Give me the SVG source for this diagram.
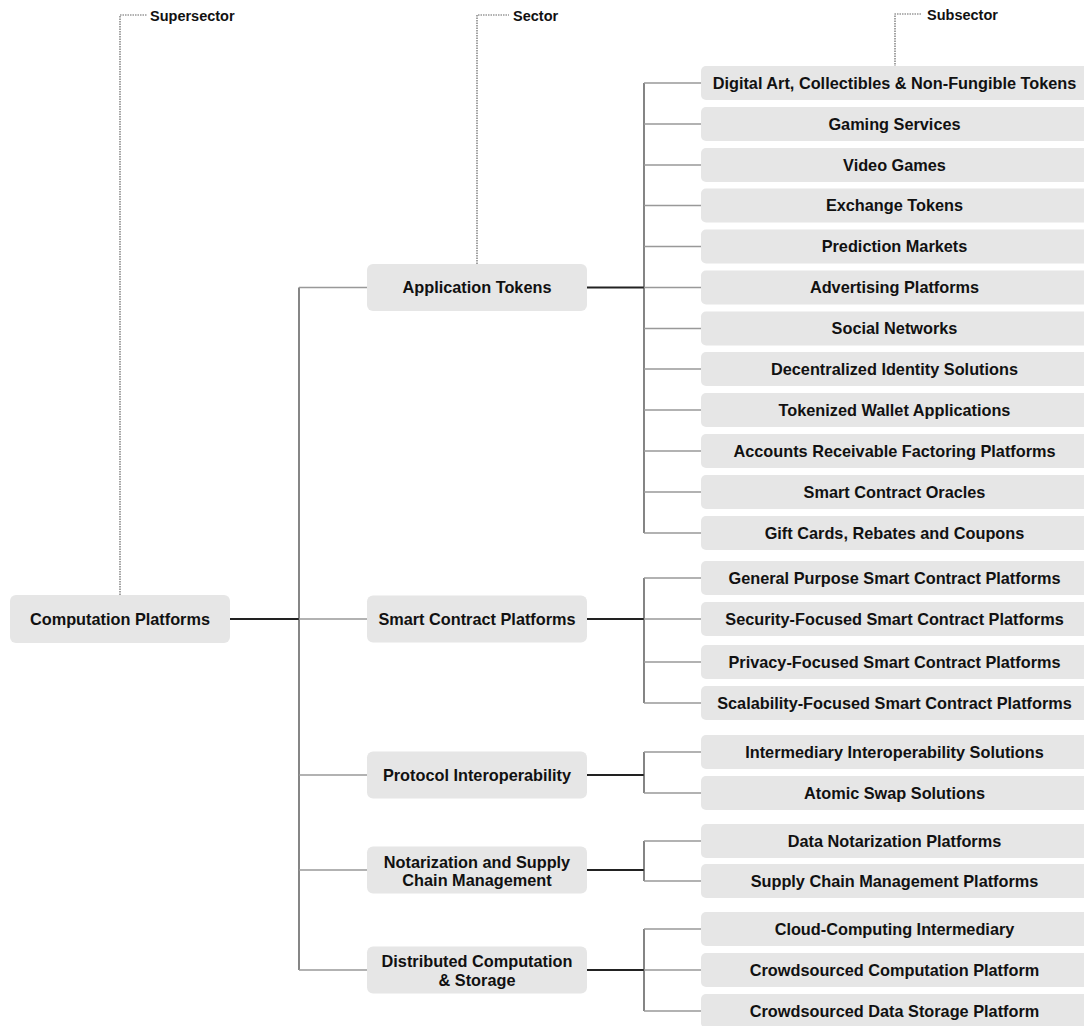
<svg xmlns="http://www.w3.org/2000/svg" width="1084" height="1026" viewBox="0 0 1084 1026">
<style>
.n rect{fill:#e6e6e6;}
.n text{font-family:"Liberation Sans",Arial,sans-serif;font-weight:bold;font-size:16.3px;fill:#111;text-anchor:middle;}
.lbl{font-family:"Liberation Sans",Arial,sans-serif;font-weight:bold;font-size:14.5px;fill:#111;}
.lead{fill:none;stroke:#666;stroke-width:1.2;stroke-dasharray:1.5 1;}
.thick{stroke:#222;stroke-width:2;fill:none;}
.vert{stroke:#444;stroke-width:1.3;fill:none;}
.thin{stroke:#999;stroke-width:1.5;fill:none;}
</style>
<rect width="1084" height="1026" fill="#fff"/>
<g id="leaders">
<path class="lead" d="M120,595 V15 H147"/>
<text class="lbl" x="150" y="20.5">Supersector</text>
<path class="lead" d="M477,264 V15 H509"/>
<text class="lbl" x="513" y="20.5">Sector</text>
<path class="lead" d="M895,67 V14 H922"/>
<text class="lbl" x="927" y="19.5">Subsector</text>
</g>
<g id="connectors">
<path class="thick" d="M230,619 H299"/>
<path class="vert" d="M299,287.5 V970"/>
<path class="thin" d="M299,287.5 H367 M299,619 H367 M299,775 H367 M299,870 H367 M299,970 H367"/>
<path class="thick" d="M587,287.5 H644 M587,619 H644 M587,775 H644 M587,870 H644 M587,970 H644"/>
<path class="vert" d="M644,83 V533 M644,578 V703 M644,752 V793 M644,841 V881 M644,929 V1011"/>
<path class="thin" d="M644,83 H701 M644,124 H701 M644,165 H701 M644,205.5 H701 M644,246.5 H701 M644,287.5 H701 M644,328.5 H701 M644,369 H701 M644,410 H701 M644,451 H701 M644,492 H701 M644,533 H701"/>
<path class="thin" d="M644,578 H701 M644,619 H701 M644,662 H701 M644,703 H701"/>
<path class="thin" d="M644,752 H701 M644,793 H701 M644,841 H701 M644,881 H701 M644,929 H701 M644,970 H701 M644,1011 H701"/>
</g>
<g id="root" class="n"><rect x="10" y="595" width="220" height="48" rx="6"/><text x="120" y="624.8">Computation Platforms</text></g>
<g id="sec-app" class="n"><rect x="367" y="264" width="220" height="47" rx="6"/><text x="477" y="293.3">Application Tokens</text></g>
<g id="sec-smart" class="n"><rect x="367" y="595.5" width="220" height="47" rx="6"/><text x="477" y="624.8">Smart Contract Platforms</text></g>
<g id="sec-proto" class="n"><rect x="367" y="751.5" width="220" height="47" rx="6"/><text x="477" y="780.8">Protocol Interoperability</text></g>
<g id="sec-notar" class="n"><rect x="367" y="846.5" width="220" height="47" rx="6"/><text x="477" y="867.5">Notarization and Supply</text><text x="477" y="886">Chain Management</text></g>
<g id="sec-dist" class="n"><rect x="367" y="946.5" width="220" height="47" rx="6"/><text x="477" y="966.5">Distributed Computation</text><text x="477" y="985.5">&amp; Storage</text></g>
<g id="sub-1" class="n"><rect x="701" y="66" width="390" height="34" rx="5"/><text x="894.5" y="88.8">Digital Art, Collectibles &amp; Non-Fungible Tokens</text></g>
<g id="sub-2" class="n"><rect x="701" y="107" width="390" height="34" rx="5"/><text x="894.5" y="129.8">Gaming Services</text></g>
<g id="sub-3" class="n"><rect x="701" y="148" width="390" height="34" rx="5"/><text x="894.5" y="170.8">Video Games</text></g>
<g id="sub-4" class="n"><rect x="701" y="188.5" width="390" height="34" rx="5"/><text x="894.5" y="211.3">Exchange Tokens</text></g>
<g id="sub-5" class="n"><rect x="701" y="229.5" width="390" height="34" rx="5"/><text x="894.5" y="252.3">Prediction Markets</text></g>
<g id="sub-6" class="n"><rect x="701" y="270.5" width="390" height="34" rx="5"/><text x="894.5" y="293.3">Advertising Platforms</text></g>
<g id="sub-7" class="n"><rect x="701" y="311.5" width="390" height="34" rx="5"/><text x="894.5" y="334.3">Social Networks</text></g>
<g id="sub-8" class="n"><rect x="701" y="352" width="390" height="34" rx="5"/><text x="894.5" y="374.8">Decentralized Identity Solutions</text></g>
<g id="sub-9" class="n"><rect x="701" y="393" width="390" height="34" rx="5"/><text x="894.5" y="415.8">Tokenized Wallet Applications</text></g>
<g id="sub-10" class="n"><rect x="701" y="434" width="390" height="34" rx="5"/><text x="894.5" y="456.8">Accounts Receivable Factoring Platforms</text></g>
<g id="sub-11" class="n"><rect x="701" y="475" width="390" height="34" rx="5"/><text x="894.5" y="497.8">Smart Contract Oracles</text></g>
<g id="sub-12" class="n"><rect x="701" y="516" width="390" height="34" rx="5"/><text x="894.5" y="538.8">Gift Cards, Rebates and Coupons</text></g>
<g id="sub-13" class="n"><rect x="701" y="561" width="390" height="34" rx="5"/><text x="894.5" y="583.8">General Purpose Smart Contract Platforms</text></g>
<g id="sub-14" class="n"><rect x="701" y="602" width="390" height="34" rx="5"/><text x="894.5" y="624.8">Security-Focused Smart Contract Platforms</text></g>
<g id="sub-15" class="n"><rect x="701" y="645" width="390" height="34" rx="5"/><text x="894.5" y="667.8">Privacy-Focused Smart Contract Platforms</text></g>
<g id="sub-16" class="n"><rect x="701" y="686" width="390" height="34" rx="5"/><text x="894.5" y="708.8">Scalability-Focused Smart Contract Platforms</text></g>
<g id="sub-17" class="n"><rect x="701" y="735" width="390" height="34" rx="5"/><text x="894.5" y="757.8">Intermediary Interoperability Solutions</text></g>
<g id="sub-18" class="n"><rect x="701" y="776" width="390" height="34" rx="5"/><text x="894.5" y="798.8">Atomic Swap Solutions</text></g>
<g id="sub-19" class="n"><rect x="701" y="824" width="390" height="34" rx="5"/><text x="894.5" y="846.8">Data Notarization Platforms</text></g>
<g id="sub-20" class="n"><rect x="701" y="864" width="390" height="34" rx="5"/><text x="894.5" y="886.8">Supply Chain Management Platforms</text></g>
<g id="sub-21" class="n"><rect x="701" y="912" width="390" height="34" rx="5"/><text x="894.5" y="934.8">Cloud-Computing Intermediary</text></g>
<g id="sub-22" class="n"><rect x="701" y="953" width="390" height="34" rx="5"/><text x="894.5" y="975.8">Crowdsourced Computation Platform</text></g>
<g id="sub-23" class="n"><rect x="701" y="994" width="390" height="34" rx="5"/><text x="894.5" y="1016.8">Crowdsourced Data Storage Platform</text></g>
</svg>
